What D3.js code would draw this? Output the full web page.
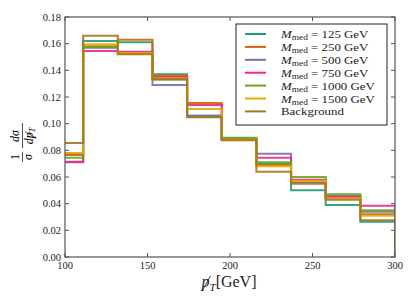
<!DOCTYPE html>
<html>
<head>
<meta charset="utf-8">
<script src="https://cdn.jsdelivr.net/npm/d3@7"></script>
<style>
  body { margin: 0; background: #fff; }
  text { font-family: "Liberation Serif", "DejaVu Serif", serif; }
</style>
</head>
<body>
<div id="chart"></div>
<script>
// bin edges of the MET histogram (first bin starts below the visible range)
var binEdges = [90, 111, 132, 153, 174, 195, 216, 237, 258, 279, 300]

var seriesNames = ["125", "250", "500", "750", "1000", "1500", "Background"]
var seriesColors = ["#1b9e77", "#d95f02", "#7570b3", "#e7298a", "#66a61e", "#e6ab02", "#a6761d"]

var m125  = [0.0775, 0.162, 0.161, 0.137, 0.106, 0.089, 0.070, 0.050, 0.039, 0.0265]
var m250  = [0.0765, 0.158, 0.163, 0.136, 0.1155, 0.0885, 0.069, 0.056, 0.0445, 0.032]
var m500  = [0.071, 0.157, 0.1535, 0.129, 0.106, 0.088, 0.0775, 0.056, 0.046, 0.034]
var m750  = [0.0715, 0.1545, 0.154, 0.135, 0.114, 0.088, 0.0745, 0.058, 0.045, 0.0385]
var m1000 = [0.0745, 0.1575, 0.1525, 0.133, 0.105, 0.0895, 0.071, 0.060, 0.047, 0.035]
var m1500 = [0.078, 0.1595, 0.153, 0.134, 0.111, 0.088, 0.068, 0.057, 0.044, 0.031]
var bkg   = [0.0855, 0.166, 0.152, 0.1335, 0.1048, 0.0875, 0.064, 0.055, 0.043, 0.0275]
var allSeries = [m125, m250, m500, m750, m1000, m1500, bkg]

var xTicks = [100, 150, 200, 250, 300]
var yTicks = [0, 0.02, 0.04, 0.06, 0.08, 0.10, 0.12, 0.14, 0.16, 0.18]

var width = 415, height = 306
var margin = {top: 17, right: 20, bottom: 49, left: 65}
var w = width - margin.left - margin.right
var h = height - margin.top - margin.bottom

var svg = d3.select("#chart").append("svg")
  .attr("width", width).attr("height", height)

var g = svg.append("g").attr("transform", "translate(" + margin.left + "," + margin.top + ")")

var x = d3.scaleLinear().domain([100, 300]).range([0, w])
var y = d3.scaleLinear().domain([0, 0.18]).range([h, 0])

g.append("clipPath").attr("id", "clip")
  .append("rect").attr("width", w).attr("height", h)

// step outline, like histtype='step'
function stepPoints(vals) {
  var pts = [[binEdges[0], 0]]
  vals.forEach(function(v, i) {
    pts.push([binEdges[i], v])
    pts.push([binEdges[i + 1], v])
  })
  pts.push([binEdges[binEdges.length - 1], 0])
  return pts
}

var line = d3.line().x(function(d) { return x(d[0]) }).y(function(d) { return y(d[1]) })

g.append("g").attr("clip-path", "url(#clip)")
  .selectAll("path").data(allSeries).enter()
  .append("path")
  .attr("d", function(d) { return line(stepPoints(d)) })
  .attr("fill", "none")
  .attr("stroke", function(d, i) { return seriesColors[i] })
  .attr("stroke-width", 2)
  .attr("stroke-opacity", 0.9)

// frame
g.append("rect").attr("width", w).attr("height", h)
  .attr("fill", "none").attr("stroke", "#555").attr("stroke-width", 1.2)

// ticks pointing inwards on all sides
var tickCol = "#555"
xTicks.forEach(function(t) {
  g.append("line").attr("x1", x(t)).attr("x2", x(t)).attr("y1", h).attr("y2", h - 4).attr("stroke", tickCol)
  g.append("line").attr("x1", x(t)).attr("x2", x(t)).attr("y1", 0).attr("y2", 4).attr("stroke", tickCol)
  g.append("text").attr("x", x(t)).attr("y", h + 12).attr("text-anchor", "middle")
    .style("font-size", "10.5px").attr("fill", "#222").text(t)
})
yTicks.forEach(function(t) {
  g.append("line").attr("x1", 0).attr("x2", 4).attr("y1", y(t)).attr("y2", y(t)).attr("stroke", tickCol)
  g.append("line").attr("x1", w).attr("x2", w - 4).attr("y1", y(t)).attr("y2", y(t)).attr("stroke", tickCol)
  g.append("text").attr("x", -4).attr("y", y(t) + 3.5).attr("text-anchor", "end")
    .style("font-size", "10.5px").attr("fill", "#222").text(t.toFixed(2))
})

// x label: slashed p_T [GeV], the slash is drawn as a stroke over the p
var xl = svg.append("text").attr("x", 229).attr("y", 287).attr("text-anchor", "middle")
  .style("font-size", "16px").attr("fill", "#222")
xl.append("tspan").style("font-style", "italic").text("p")
xl.append("tspan").style("font-style", "italic").style("font-size", "11px").attr("dy", 4).text("T")
xl.append("tspan").attr("dy", -4).text("[GeV]")
var px = xl.node().getStartPositionOfChar(0).x
svg.append("line").attr("x1", px + 0.5).attr("y1", 291).attr("x2", px + 9).attr("y2", 276)
  .attr("stroke", "#222").attr("stroke-width", 0.9)

// y label: fraction 1/sigma dsigma/dMET, rotated
var yl = svg.append("g").attr("transform", "translate(22,139) rotate(-90)")
yl.append("text").attr("x", -18).attr("y", -3).attr("text-anchor", "middle").style("font-size", "12px").text("1")
yl.append("text").attr("x", -18).attr("y", 10).attr("text-anchor", "middle").style("font-size", "12px").style("font-style", "italic").text("\u03c3")
yl.append("line").attr("x1", -23).attr("x2", -13).attr("y1", 0.5).attr("y2", 0.5).attr("stroke", "#222").attr("stroke-width", 0.8)
yl.append("text").attr("x", 3).attr("y", -3).attr("text-anchor", "middle").style("font-size", "12px").style("font-style", "italic").text("d\u03c3")
var den = yl.append("text").attr("x", 3).attr("y", 11).attr("text-anchor", "middle").style("font-size", "12px").style("font-style", "italic")
den.append("tspan").text("dp")
den.append("tspan").style("font-size", "8px").attr("dy", 2).text("T")
var dpx = den.node().getStartPositionOfChar(1).x
yl.append("line").attr("x1", dpx + 0.3).attr("y1", 14).attr("x2", dpx + 6.5).attr("y2", 3)
  .attr("stroke", "#222").attr("stroke-width", 0.7)
yl.append("line").attr("x1", -9).attr("x2", 16).attr("y1", 0.5).attr("y2", 0.5).attr("stroke", "#222").attr("stroke-width", 0.8)

// legend
var lg = svg.append("g").attr("transform", "translate(236,24)")
lg.append("rect").attr("width", 151).attr("height", 101)
  .attr("fill", "#fff").attr("stroke", "#222").attr("stroke-width", 1)
seriesNames.forEach(function(name, i) {
  var yy = 10 + i * 12.9
  lg.append("line").attr("x1", 9).attr("x2", 30).attr("y1", yy).attr("y2", yy)
    .attr("stroke", seriesColors[i]).attr("stroke-width", 2)
  var t = lg.append("text").attr("x", 45).attr("y", yy + 4).style("font-size", "11px").attr("fill", "#222")
  if (name === "Background") {
    t.text("Background")
  } else {
    t.append("tspan").style("font-style", "italic").text("M")
    t.append("tspan").style("font-size", "8px").attr("dy", 2).text("med")
    t.append("tspan").attr("dy", -2).text(" = " + name + " GeV")
  }
  // computer-modern glyphs are wider than Times, stretch a bit
  var len = t.node().getComputedTextLength()
  t.attr("textLength", len * 1.17).attr("lengthAdjust", "spacingAndGlyphs")
})
</script>
</body>
</html>
